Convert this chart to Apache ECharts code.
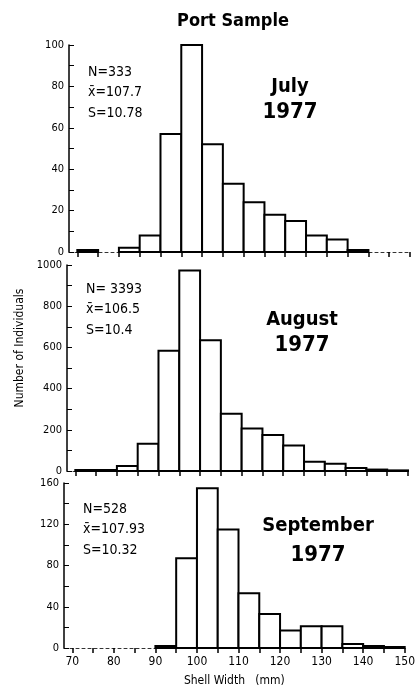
<!DOCTYPE html>
<html>
<head>
<meta charset="utf-8">
<script src="https://cdn.jsdelivr.net/npm/echarts@6/dist/echarts.min.js"></script>
<style>
html,body{margin:0;padding:0;background:#fff;}
#c{width:418px;height:698px;}
</style>
</head>
<body>
<div id="c"></div>
<script>
// Bin lower edges (mm), width 5 mm
const binStarts = [70,75,80,85,90,95,100,105,110,115,120,125,130,135,140,145];
const binWidth = 5;
// Counts per bin
const julyCounts = [1,0,2,8,57,100,52,33,24,18,15,8,6,1,0,0];
const augustCounts = [5,5,24,132,584,973,635,278,206,175,124,45,35,15,7,3];
const septemberCounts = [0,0,0,0,2,87,155,115,53,33,17,21,21,4,2,1];
// Axis tick labels
const xTickLabels = [70,80,90,100,110,120,130,140,150];
const xTickMarks = [70,75,80,85,90,95,100,105,110,115,120,125,130,135,140,145,150];
const panelNames = ['July','August','September'];
const panelYears = ['1977','1977','1977'];
const statN = ['N=333','N= 3393','N=528'];
const statMean = ['x\u0304=107.7','x\u0304=106.5','x\u0304=107.93'];
const statS = ['S=10.78','S=10.4','S=10.32'];
const yMax = [100,1000,160];
const yInterval = [20,200,40];

const FONT = '"DejaVu Sans Condensed","Liberation Sans Narrow","DejaVu Sans",sans-serif';

const grids = [
  {left:69, top:45, width:341, height:207},
  {left:67, top:265, width:341, height:206},
  {left:64, top:483, width:341, height:165}
];

function toData(counts){
  return counts.map((v,i)=>[binStarts[i], binStarts[i]+binWidth, v]);
}

function renderBin(params, api){
  const x0 = api.value(0), x1 = api.value(1), v = api.value(2);
  if (!v) return null;
  const p0 = api.coord([x0, 0]);
  const p1 = api.coord([x1, v]);
  return {
    type:'rect',
    shape:{x:p0[0], y:p1[1], width:p1[0]-p0[0], height:p0[1]-p1[1]},
    style:{fill:'#fff', stroke:'#000', lineWidth:2}
  };
}

const allCounts = [julyCounts, augustCounts, septemberCounts];

const xAxes = grids.map((g,i)=>({
  type:'value', gridIndex:i, min:68, max:150,
  axisLine:{show:true, lineStyle:{color:'#333', width:1, type:[3,3]}},
  axisTick:{show:true, customValues:xTickMarks, length:5, lineStyle:{color:'#000', width:1.5}},
  axisLabel:{show:i===2, customValues:xTickLabels, color:'#000', fontSize:12, fontFamily:FONT, margin:8},
  splitLine:{show:false},
  name: i===2 ? 'Shell Width   (mm)' : '',
  nameLocation:'middle', nameGap:27,
  nameTextStyle:{color:'#000', fontSize:12, fontFamily:FONT}
}));

const yAxes = grids.map((g,i)=>({
  type:'value', gridIndex:i, min:0, max:yMax[i], interval:yInterval[i],
  axisLine:{show:true, lineStyle:{color:'#000', width:1.5}},
  axisTick:{show:true, inside:true, length:5, lineStyle:{color:'#000', width:1}},
  minorTick:{show:true, splitNumber:2, length:5, lineStyle:{color:'#000', width:1}},
  axisLabel:{color:'#000', fontSize:11, fontFamily:FONT, margin:5, formatter:(v)=>String(v)},
  splitLine:{show:false}
}));

const series = allCounts.map((c,i)=>({
  type:'custom', xAxisIndex:i, yAxisIndex:i,
  renderItem:renderBin, data:toData(c),
  encode:{x:[0,1], y:2}, z:3
}));

const statPos = [[88,73],[86,290],[83,510]];
const namePos = [[290,87],[302,320],[318,526]];
const graphics = [];
for (let i=0;i<3;i++){
  const [sx,sy] = statPos[i];
  [statN[i],statMean[i],statS[i]].forEach((t,k)=>{
    graphics.push({type:'text', left:sx, top:sy-8+k*20.5, style:{text:t, fill:'#000', font:'14px '+FONT}});
  });
  const [nx,ny] = namePos[i];
  graphics.push({type:'text', x:nx, y:ny, style:{text:panelNames[i], fill:'#000', font:'bold 20px '+FONT, align:'center', verticalAlign:'middle'}});
  graphics.push({type:'text', x:nx, y:ny+(i===2?29:25), style:{text:panelYears[i], fill:'#000', font:'bold 22px '+FONT, align:'center', verticalAlign:'middle'}});
}
graphics.push({type:'text', x:20, y:348, rotation:Math.PI/2, style:{text:'Number of Individuals', fill:'#000', font:'12px '+FONT, align:'center', verticalAlign:'middle'}});

const chart = echarts.init(document.getElementById('c'), null, {renderer:'canvas'});
chart.setOption({
  backgroundColor:'#fff',
  animation:false,
  title:{text:'Port Sample', left:228, top:7, textAlign:'center', textStyle:{fontSize:18, fontWeight:'bold', fontFamily:FONT, color:'#000'}},
  grid:grids,
  xAxis:xAxes,
  yAxis:yAxes,
  series:series,
  graphic:graphics
});
</script>
</body>
</html>
